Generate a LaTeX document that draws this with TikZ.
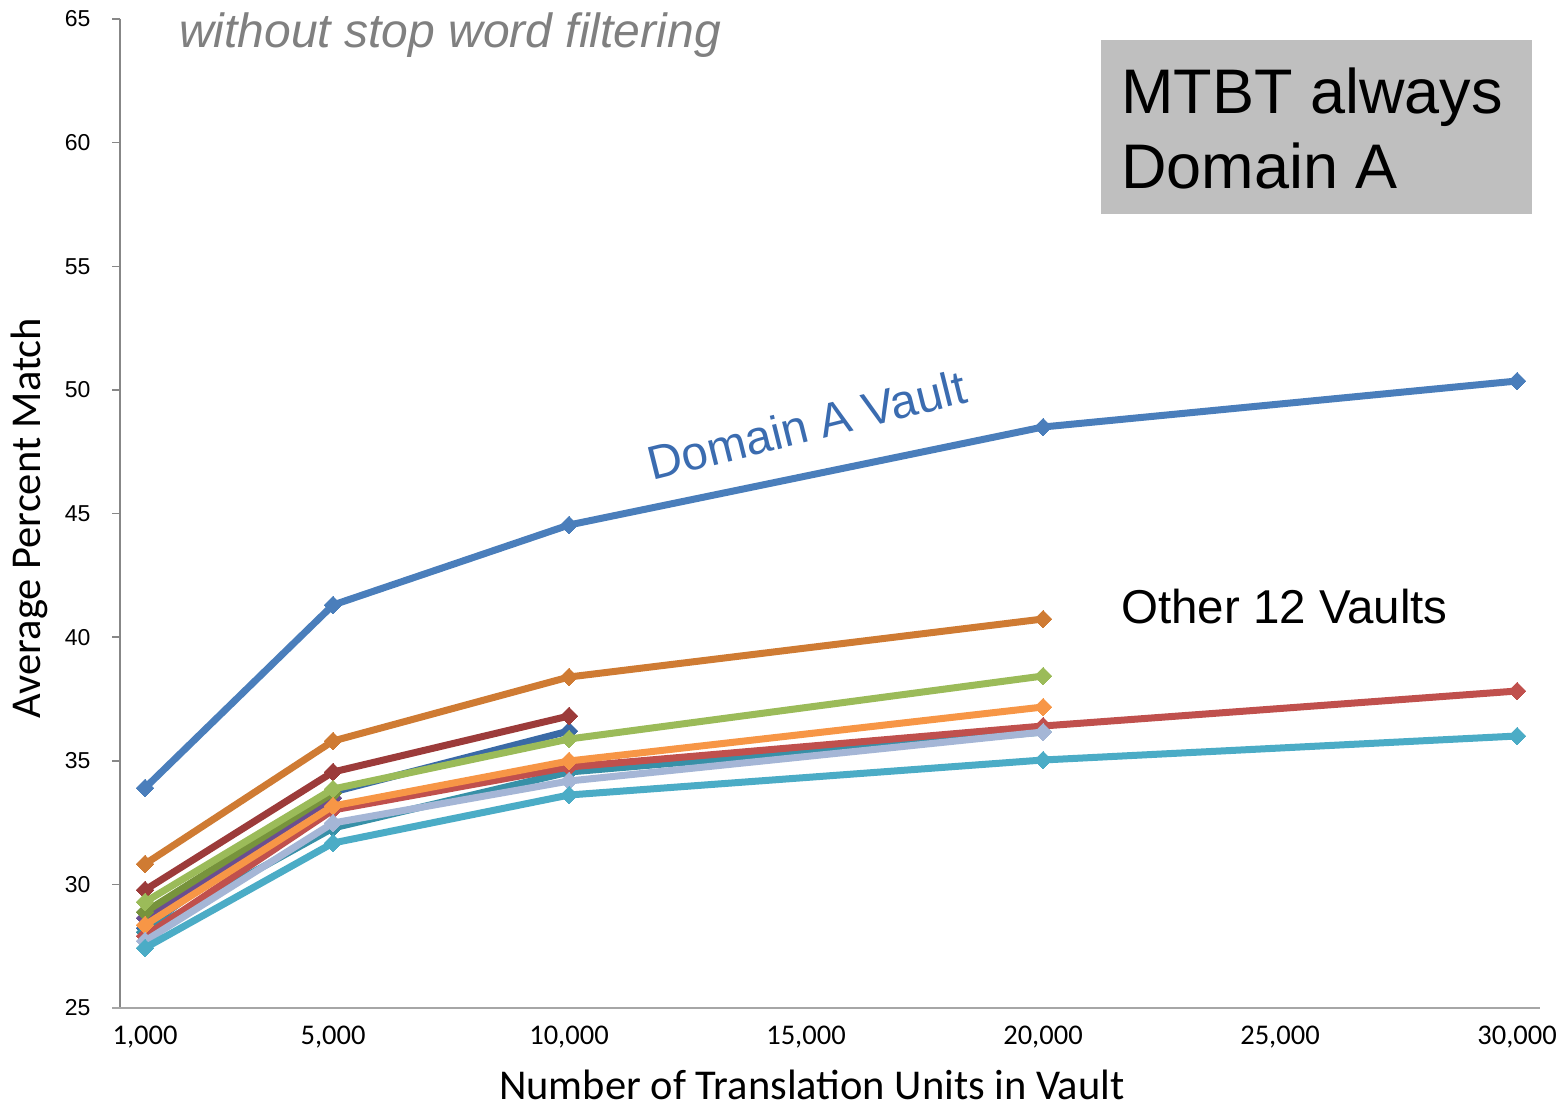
\documentclass[tikz,border=0pt]{standalone}
\usepackage{fontspec}
\setmainfont{Liberation Sans}
\newfontfamily\calfont{Carlito}
\usetikzlibrary{plotmarks}
\definecolor{cdomA}{HTML}{4A7EBB}
\definecolor{cobrown}{HTML}{CF7B33}
\definecolor{cdred}{HTML}{9C3B3A}
\definecolor{cdblue}{HTML}{3A6AA6}
\definecolor{cpurple}{HTML}{6A4E90}
\definecolor{colive}{HTML}{77933C}
\definecolor{cgreen}{HTML}{9BBB59}
\definecolor{cteal}{HTML}{3790A7}
\definecolor{cred}{HTML}{C0504D}
\definecolor{corange}{HTML}{F79646}
\definecolor{clblue}{HTML}{A5B6D6}
\definecolor{ccyan}{HTML}{4BACC6}
\definecolor{boxgray}{HTML}{BFBFBF}
\definecolor{axgray}{HTML}{878787}
\definecolor{labblue}{HTML}{3B6CB0}
\tikzset{
  series/.style={line width=7pt, line join=round, color=#1,
    mark=square*, mark size=6.2pt, mark options={rotate=45, fill=#1, draw=#1, line width=0pt}},
  ytick/.style={anchor=east, font=\fontsize{23}{26}\selectfont},
  xtick/.style={anchor=center, font=\calfont\fontsize{28.5}{32}\selectfont},
}
\begin{document}
\begin{tikzpicture}[x=1pt,y=-1pt]
\useasboundingbox (0,0) rectangle (1568,1108);
\fill[white] (0,0) rectangle (1568,1108);
% axes
\draw[axgray, line width=1.5pt] (120,19) -- (120,1008);
\foreach \yy in {19,142.6,266.3,390,513.6,637.1,760.8,884.5}
  \draw[axgray, line width=1.5pt] (112,\yy) -- (120,\yy);
\draw[black!35, line width=2.5pt] (112,1008) -- (1540,1008);
% y tick labels
\node[ytick] (y65) at (94,19) {65};
\node[ytick] (y60) at (94,142.6) {60};
\node[ytick] (y55) at (94,266.3) {55};
\node[ytick] (y50) at (94,390) {50};
\node[ytick] (y45) at (94,513.6) {45};
\node[ytick] (y40) at (94,637.1) {40};
\node[ytick] (y35) at (94,760.8) {35};
\node[ytick] (y30) at (94,884.5) {30};
\node[ytick] (y25) at (94,1008) {25};
% x tick labels
\node[xtick] (x1) at (145,1037) {1,000};
\node[xtick] (x5) at (333,1037) {5,000};
\node[xtick] (x10) at (569,1037) {10,000};
\node[xtick] (x15) at (806,1037) {15,000};
\node[xtick] (x20) at (1043,1037) {20,000};
\node[xtick] (x25) at (1280,1037) {25,000};
\node[xtick] (x30) at (1517,1037) {30,000};
% axis titles
\node[font=\calfont\fontsize{42.5}{48}\selectfont, rotate=90] (ylab) at (29,518) {Average Percent Match};
\node[font=\calfont\fontsize{42.5}{48}\selectfont] (xlab) at (812,1085) {Number of Translation Units in Vault};
% series
\draw[series=cdomA] plot coordinates {(145,788) (333,605) (569,525) (1043,427) (1517,381)};
\draw[series=cobrown] plot coordinates {(145,864) (333,741) (569,677) (1043,619)};
\draw[series=cdblue] plot coordinates {(145,928) (333,792) (569,731)};
\draw[series=cdred] plot coordinates {(145,890) (333,772) (569,716)};
\draw[series=cpurple] plot coordinates {(145,918) (333,798)};
\draw[series=colive] plot coordinates {(145,912) (333,793)};
\draw[series=cgreen] plot coordinates {(145,902) (333,789) (569,739) (1043,676)};
\draw[series=cteal] plot coordinates {(145,932) (333,828) (569,772) (1043,732)};
\draw[series=cred] plot coordinates {(145,936) (333,810) (569,767) (1043,726) (1517,691)};
\draw[series=corange] plot coordinates {(145,925) (333,806) (569,761) (1043,707)};
\draw[series=clblue] plot coordinates {(145,941) (333,823) (569,781) (1043,732)};
\draw[series=ccyan] plot coordinates {(145,948) (333,843) (569,795) (1043,760) (1517,736)};
% annotations
\node[anchor=base west, text=black!50, font=\itshape\fontsize{48}{54}\selectfont, inner sep=0pt] (note) at (179,48) {without stop word filtering};
\node[fill=boxgray, minimum width=431pt, minimum height=174pt, inner sep=0pt] (box) at (1316.5,127) {};
\node[anchor=base west, inner sep=0pt, font=\fontsize{63}{75}\selectfont] (box1) at (1121,113) {MTBT always};
\node[anchor=base west, inner sep=0pt, font=\fontsize{63}{75}\selectfont] (box2) at (1121,188) {Domain A};
\node[anchor=base west, inner sep=0pt, font=\fontsize{47.5}{54}\selectfont] (other) at (1121,623) {Other 12 Vaults};
\node[anchor=base west, inner sep=0pt, rotate=14, text=labblue, font=\fontsize{47.5}{54}\selectfont] (dav) at (652,481) {Domain A Vault};
\end{tikzpicture}
\end{document}
